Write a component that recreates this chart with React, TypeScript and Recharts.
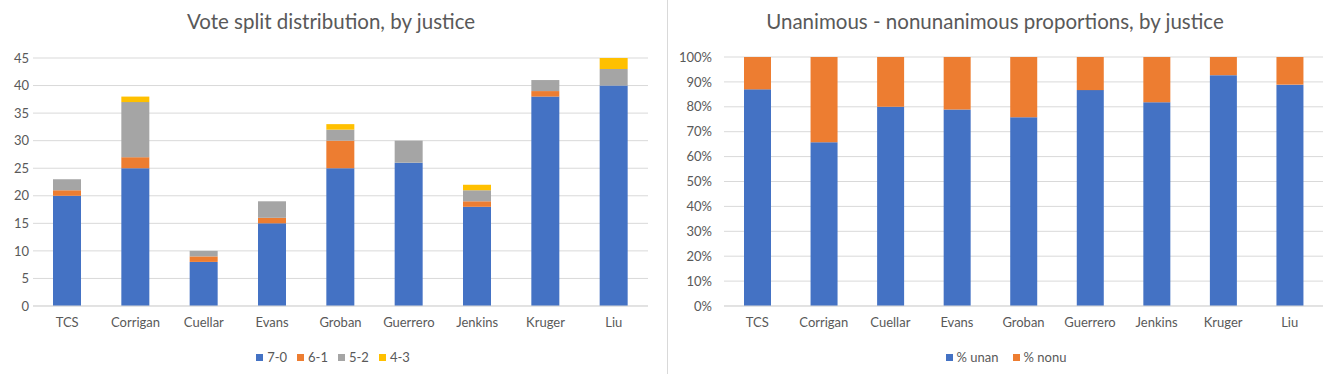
import { BarChart, Bar, XAxis, YAxis, CartesianGrid } from "recharts";

const FONT = "Lato, 'Open Sans', sans-serif";
const TEXT = "#595959";
const GRID = "#d9d9d9";

const justices = ["TCS", "Corrigan", "Cuellar", "Evans", "Groban", "Guerrero", "Jenkins", "Kruger", "Liu"];

// vote split counts
const split70 = [20, 25, 8, 15, 25, 26, 18, 38, 40];
const split61 = [1, 2, 1, 1, 5, 0, 1, 1, 0];
const split52 = [2, 10, 1, 3, 2, 4, 2, 2, 3];
const split43 = [0, 1, 0, 0, 1, 0, 1, 0, 2];
const countTicks = [0, 5, 10, 15, 20, 25, 30, 35, 40, 45];

// proportions (%)
const pctUnan = [87.0, 65.8, 80.0, 78.9, 75.8, 86.7, 81.8, 92.7, 88.9];
const pctNonu = [13.0, 34.2, 20.0, 21.1, 24.2, 13.3, 18.2, 7.3, 11.1];
const pctTicks = [0, 10, 20, 30, 40, 50, 60, 70, 80, 90, 100];

const splitSeries = [
  { key: "s70", name: "7-0", color: "#4472C4" },
  { key: "s61", name: "6-1", color: "#ED7D31" },
  { key: "s52", name: "5-2", color: "#A5A5A5" },
  { key: "s43", name: "4-3", color: "#FFC000" },
];

const pctSeries = [
  { key: "unan", name: "% unan", color: "#4472C4" },
  { key: "nonu", name: "% nonu", color: "#ED7D31" },
];

const splitData = justices.map((j, i) => ({
  name: j,
  s70: split70[i],
  s61: split61[i],
  s52: split52[i],
  s43: split43[i],
}));

const pctData = justices.map((j, i) => ({
  name: j,
  unan: pctUnan[i],
  nonu: pctNonu[i],
}));

const tickStyle = { fill: TEXT, fontSize: 13, fontFamily: FONT };

function LegendRow({ items, center, top, gap }: { items: { name: string; color: string }[]; center: number; top: number; gap: number }) {
  return (
    <div
      style={{
        position: "absolute",
        left: center - 200,
        width: 400,
        top,
        display: "flex",
        justifyContent: "center",
        gap,
        fontFamily: FONT,
        fontSize: 13,
        color: TEXT,
      }}
    >
      {items.map((it) => (
        <div key={it.name} style={{ display: "flex", alignItems: "center", gap: 4 }}>
          <span style={{ width: 7, height: 7, background: it.color, display: "inline-block" }} />
          <span>{it.name}</span>
        </div>
      ))}
    </div>
  );
}

function Title({ text, center }: { text: string; center: number }) {
  return (
    <div
      style={{
        position: "absolute",
        left: center - 300,
        width: 600,
        top: 9,
        textAlign: "center",
        fontFamily: FONT,
        fontSize: 20.5,
        color: TEXT,
      }}
    >
      {text}
    </div>
  );
}

export default function App() {
  return (
    <div style={{ position: "absolute", left: 0, top: 0, width: 1328, height: 374, background: "#fff", overflow: "hidden" }}>
      <Title text="Vote split distribution, by justice" center={331} />
      <Title text="Unanimous - nonunanimous proportions, by justice" center={995} />

      <div style={{ position: "absolute", left: 0, top: 0 }}>
        <BarChart width={660} height={374} data={splitData} margin={{ top: 58, right: 12, left: 0, bottom: 38 }} barSize={28}>
          <CartesianGrid vertical={false} stroke={GRID} />
          <XAxis dataKey="name" tick={tickStyle} tickLine={false} axisLine={{ stroke: GRID }} tickSize={0} tickMargin={12} height={30} interval={0} />
          <YAxis domain={[0, 45]} ticks={countTicks} tick={tickStyle} axisLine={false} tickLine={false} tickSize={0} tickMargin={4} width={33} />
          {splitSeries.map((s) => (
            <Bar key={s.key} dataKey={s.key} name={s.name} stackId="a" fill={s.color} isAnimationActive={false} />
          ))}
        </BarChart>
      </div>

      <div style={{ position: "absolute", left: 667, top: 0, width: 1, height: 374, background: GRID }} />

      <div style={{ position: "absolute", left: 668, top: 0 }}>
        <BarChart width={660} height={374} data={pctData} margin={{ top: 57, right: 5, left: 0, bottom: 38 }} barSize={27}>
          <CartesianGrid vertical={false} stroke={GRID} />
          <XAxis dataKey="name" tick={tickStyle} tickLine={false} axisLine={{ stroke: GRID }} tickSize={0} tickMargin={12} height={30} interval={0} />
          <YAxis
            domain={[0, 100]}
            ticks={pctTicks}
            tickFormatter={(v: number) => `${v}%`}
            tick={tickStyle}
            axisLine={false}
            tickLine={false}
            tickSize={0}
            tickMargin={12}
            width={56}
          />
          {pctSeries.map((s) => (
            <Bar key={s.key} dataKey={s.key} name={s.name} stackId="p" fill={s.color} isAnimationActive={false} />
          ))}
        </BarChart>
      </div>

      <LegendRow items={splitSeries} center={333} top={349} gap={10} />
      <LegendRow items={pctSeries} center={1006} top={349} gap={14} />
    </div>
  );
}
